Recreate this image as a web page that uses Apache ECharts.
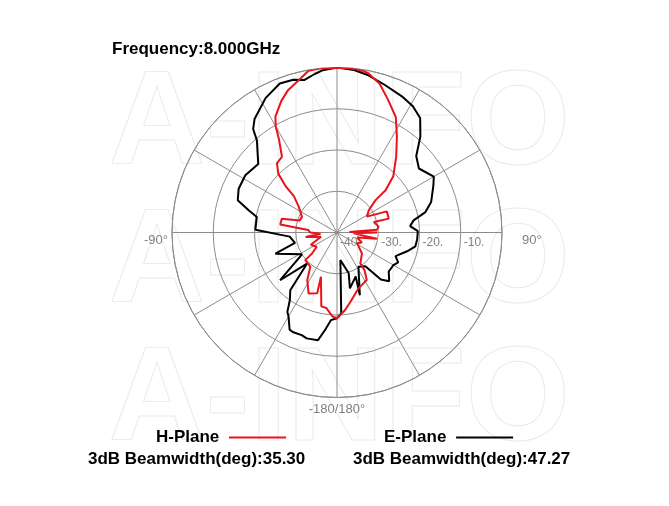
<!DOCTYPE html>
<html>
<head>
<meta charset="utf-8">
<script src="https://cdn.jsdelivr.net/npm/echarts@6/dist/echarts.min.js"></script>
<style>
  html, body { margin: 0; padding: 0; background: #fff; }
  #chart { width: 669px; height: 506px; }
</style>
</head>
<body>
<div id="chart"></div>
<script>
// pattern angles in degrees (0 = boresight, clockwise), gains in dB
const hAngle = [0, 4, 8, 11, 16, 21, 27, 32, 38, 45, 49, 50, 55, 62, 67, 75, 74, 82, 86, 88,
  90, 93, 99, 104, 112, 118, 124, 130, 143, 144, 148, 159, 168, 174, 180, -177, -172, -168, -160, -162,
  -155, -148, -142, -131, -130, -125, -115, -105, -98, -94, -90, -85, -82, -76, -72, -66, -56, -50, -48, -45,
  -41, -36, -32, -30, -28, -23, -19, -14, -10, -6, 0]
const hGain = [-0.1, 0, -0.2, -0.6, -2.5, -5.5, -8.6, -12.6, -16.7, -20.7, -24.4, -27.8, -30.6, -31.8, -26.9, -27, -30.7, -29.8, -30.3, -37,
  -30.3, -36, -30.2, -35, -33.5, -34.5, -34.6, -32.1, -30.6, -28.6, -26.4, -25.5, -23.2, -21.1, -19.2, -19.6, -21.5, -21.7, -28.6, -24.5,
  -23.7, -26.4, -29.5, -29.8, -32.1, -34, -33, -36, -32.3, -36, -33.5, -33, -26.1, -26.2, -30.5, -30.7, -28.8, -26.4, -23.3, -19.9,
  -17.8, -17.3, -13.5, -10.3, -8.2, -5.4, -3.5, -1.9, -0.2, 0, -0.1]

const eAngle = [0, 6, 11, 18, 26, 31, 36, 41, 46, 52, 60, 64, 68, 72, 77, 81, 85, 89, 95, 100,
  105, 112, 116, 120, 127, 133, 137, 140, 148, 160, 157, 167, 164, 173, 177, 180, -176, -173, -170, -164,
  -161, -156, -154, -150, -148, -145, -141, -136, -130, -122, -109, -104, -95, -88, -79, -76, -72, -66, -58, -49,
  -41, -39, -36, -28, -21, -16, -12, -8, -5, 0]
const eGain = [0, -0.4, -1.1, -2.4, -3.5, -4.3, -5.7, -9.2, -13.3, -14.8, -12.9, -14, -15.1, -16, -18, -21.2, -22.2, -20.4, -20.5, -20.7,
  -22.4, -24.7, -23.5, -24.2, -24.3, -22.7, -24.4, -29.3, -30.2, -23.8, -28.4, -26.1, -29.7, -33.3, -20.4, -19.2, -18.7, -16.2, -13.5, -13.3,
  -13.7, -13.6, -13.8, -16.5, -17.3, -20.1, -22, -29.5, -22, -30, -24.2, -29.5, -28.5, -20.2, -20.2, -18, -14.7, -13.9, -13.8, -14.7,
  -10.4, -7.7, -6, -3.1, -1.3, -1.5, -2.2, -1.2, -0.5, 0]

const radiusTicks = [-40, -30, -20, -10, 0]
const seriesNames = ['H-Plane', 'E-Plane']
const beamwidths = ['35.30', '47.27']
const frequency = '8.000GHz'

const FONT = 'Liberation Sans, Arial, sans-serif'
const GRID = '#8c8c8c'
const LABEL = '#808080'

// angle axis runs 90..450 starting at the right, so boresight (360) lands at the top
function toAxisAngle(a) {
  return a < 90 ? a + 360 : a
}
function buildData(angles, gains) {
  return angles.map((a, i) => [gains[i], toAxisAngle(a)])
}

const chart = echarts.init(document.getElementById('chart'), null, { renderer: 'canvas' })

// faint "A-INFO" watermark rows behind the plot
const watermark = [80, 218, 356].map((top) => ({
  type: 'text',
  left: 108,
  top: top - 20,
  z: -10,
  silent: true,
  style: {
    text: 'A-INFO',
    font: 'bold 134px ' + FONT,
    fill: 'rgba(0,0,0,0)',
    stroke: '#ebebeb',
    lineWidth: 1
  }
}))

const textStyle = { fontFamily: FONT, fontSize: 17, fontWeight: 'bold', color: '#000' }

chart.setOption({
  animation: false,
  backgroundColor: '#fff',
  graphic: watermark,
  title: [
    { text: 'Frequency:' + frequency, left: 112, top: 41, padding: 0, textStyle },
    { text: '3dB Beamwidth(deg):' + beamwidths[0], left: 88, top: 451, padding: 0, textStyle },
    { text: '3dB Beamwidth(deg):' + beamwidths[1], left: 353, top: 451, padding: 0, textStyle }
  ],
  legend: {
    data: seriesNames,
    left: 156,
    top: 429,
    padding: 0,
    align: 'right',
    icon: 'rect',
    itemWidth: 57,
    itemHeight: 2,
    itemGap: 98,
    formatter: (name) => name + ' ',
    textStyle
  },
  polar: {
    center: [337, 232.5],
    radius: 165
  },
  angleAxis: {
    type: 'value',
    min: 90,
    max: 450,
    interval: 30,
    startAngle: 0,
    clockwise: true,
    axisLine: { lineStyle: { color: GRID, width: 1 } },
    axisTick: { show: false },
    splitLine: { lineStyle: { color: GRID, width: 1 } },
    axisLabel: {
      margin: 4,
      lineHeight: 16,
      fontFamily: FONT,
      fontSize: 13,
      color: LABEL,
      // side labels sit a little below the horizontal line
      formatter: (v) => {
        if (v === 180) return '-180/180°'
        if (v === 270) return '\n-90°'
        if (v === 90) return '\n{r|90°}'
        return ''
      },
      rich: { r: { padding: [0, 0, 0, 16], fontFamily: FONT, fontSize: 13, lineHeight: 16, color: LABEL } }
    }
  },
  radiusAxis: {
    type: 'value',
    min: radiusTicks[0],
    max: radiusTicks[radiusTicks.length - 1],
    interval: 10,
    axisLine: { show: false },
    axisTick: { show: false },
    splitLine: { lineStyle: { color: GRID, width: 1 } },
    axisLabel: {
      margin: -4,
      align: 'left',
      verticalAlign: 'top',
      padding: [0, 0, 0, 3],
      fontFamily: FONT,
      fontSize: 12,
      color: LABEL,
      formatter: (v) => (v === 0 ? '' : v === -40 ? '-40' : v + '.')
    }
  },
  series: [
    {
      name: seriesNames[1],
      type: 'line',
      coordinateSystem: 'polar',
      data: buildData(eAngle, eGain),
      showSymbol: false,
      color: '#000',
      lineStyle: { width: 2, color: '#000' }
    },
    {
      name: seriesNames[0],
      type: 'line',
      coordinateSystem: 'polar',
      data: buildData(hAngle, hGain),
      showSymbol: false,
      color: '#e8141b',
      lineStyle: { width: 2, color: '#e8141b' }
    }
  ]
})
</script>
</body>
</html>
